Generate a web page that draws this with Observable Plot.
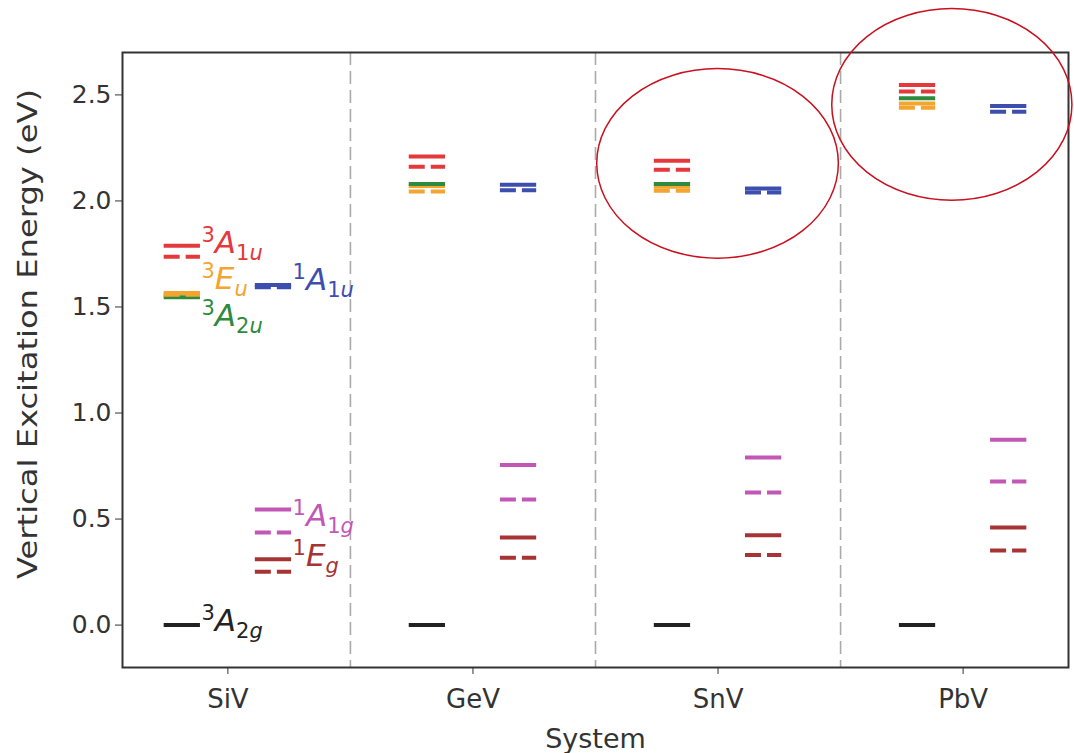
<!DOCTYPE html>
<html>
<head>
<meta charset="utf-8">
<script src="https://cdn.jsdelivr.net/npm/d3@7"></script>
<script src="https://cdn.jsdelivr.net/npm/@observablehq/plot@0.6"></script>
<style>
  html, body { margin: 0; padding: 0; background: #ffffff; }
  #chart svg { display: block; overflow: visible; }
</style>
</head>
<body>
<div id="chart"></div>
<script>
// ---------- data ----------
const systems = ["SiV", "GeV", "SnV", "PbV"];
const yTicks = [0, 0.5, 1.0, 1.5, 2.0, 2.5];

// triplet column (left)
const ground_3A2g      = [0.000, 0.000, 0.000, 0.000];
const red_3A1u_solid   = [1.789, 2.210, 2.189, 2.547];
const red_3A1u_dashed  = [1.737, 2.161, 2.147, 2.516];
const orange_3Eu_solid = [1.566, 2.070, 2.067, 2.459];
const orange_3Eu_dashed= [1.558, 2.045, 2.048, 2.440];
const green_3A2u_solid = [1.546, 2.080, 2.080, 2.484];
// singlet column (right)
const blue_1A1u_solid    = [1.604, 2.076, 2.059, 2.448];
const blue_1A1u_dashed   = [1.593, 2.050, 2.040, 2.421];
const magenta_1A1g_solid = [0.545, 0.755, 0.790, 0.874];
const magenta_1A1g_dashed= [0.436, 0.592, 0.625, 0.677];
const brown_1Eg_solid    = [0.311, 0.413, 0.424, 0.460];
const brown_1Eg_dashed   = [0.251, 0.317, 0.330, 0.352];

// state labels (SiV only): superscript, main letter, subscript digit, subscript letter, label y
const labelSup   = ["3", "3", "3", "3", "1", "1", "1"];
const labelMain  = ["A", "E", "A", "A", "A", "A", "E"];
const labelSubD  = ["1", "",  "2", "2", "1", "1", ""];
const labelSubL  = ["u", "u", "u", "g", "u", "g", "g"];
const labelY     = [1.80, 1.63, 1.455, 0.02, 1.625, 0.515, 0.325];
const labelCol   = ["T", "T", "T", "T", "S", "S", "S"];
const labelColor = ["red", "orange", "green", "black", "blue", "magenta", "brown"];

// annotation ellipses (data units)
const ellipseCx = [2.0, 2.956];
const ellipseCy = [2.175, 2.453];
const ellipseRx = [0.493, 0.49];
const ellipseRy = [0.447, 0.452];

// ---------- styling ----------
const colors = {
  red: "#e5383b", orange: "#f3a530", green: "#2e8a3c", blue: "#3d4fae",
  magenta: "#c257b6", brown: "#a63434", black: "#222222"
};
const colOffset = { T: -0.186, S: 0.186 };
const halfW = 0.074;

// ---------- build level table ----------
const series = [
  { vals: ground_3A2g,        col: "T", color: "black",   dash: false },
  { vals: orange_3Eu_solid,   col: "T", color: "orange",  dash: false },
  { vals: orange_3Eu_dashed,  col: "T", color: "orange",  dash: true  },
  { vals: green_3A2u_solid,   col: "T", color: "green",   dash: false },
  { vals: red_3A1u_solid,     col: "T", color: "red",     dash: false },
  { vals: red_3A1u_dashed,    col: "T", color: "red",     dash: true  },
  { vals: blue_1A1u_solid,    col: "S", color: "blue",    dash: false },
  { vals: blue_1A1u_dashed,   col: "S", color: "blue",    dash: true  },
  { vals: magenta_1A1g_solid, col: "S", color: "magenta", dash: false },
  { vals: magenta_1A1g_dashed,col: "S", color: "magenta", dash: true  },
  { vals: brown_1Eg_solid,    col: "S", color: "brown",   dash: false },
  { vals: brown_1Eg_dashed,   col: "S", color: "brown",   dash: true  }
];
const levels = [];
series.forEach(s => s.vals.forEach((v, i) => levels.push({
  sys: i, y: v, x1: i + colOffset[s.col] - halfW, x2: i + colOffset[s.col] + halfW,
  color: colors[s.color], dash: s.dash
})));
const solid = levels.filter(d => !d.dash);
const dashed = levels.filter(d => d.dash);

const labels = labelMain.map((m, i) => ({
  x: 0 + colOffset[labelCol[i]] + halfW, y: labelY[i],
  sup: labelSup[i], main: m, subD: labelSubD[i], subL: labelSubL[i],
  color: colors[labelColor[i]]
}));

const W = 1074, H = 753;
const font = "DejaVu Sans, Liberation Sans, sans-serif";

const plot = Plot.plot({
  width: W, height: H,
  marginLeft: 122, marginRight: 6, marginTop: 52, marginBottom: 86,
  style: { fontFamily: font, fontSize: "25px", color: "#333", background: "#fff" },
  x: { domain: [-0.43, 3.43] },
  y: { domain: [-0.2, 2.7] },
  marks: [
    Plot.ruleX([0.5, 1.5, 2.5], { stroke: "#aaaaaa", strokeWidth: 1.6, strokeDasharray: "13,6" }),
    Plot.ruleY(solid, { y: "y", x1: "x1", x2: "x2", stroke: "color", strokeWidth: 4 }),
    Plot.ruleY(dashed, { y: "y", x1: "x1", x2: "x2", stroke: "color", strokeWidth: 4, strokeDasharray: "16,6" }),
    Plot.text(labels, { x: "x", y: "y", text: "main", fill: "color", textAnchor: "start", lineAnchor: "middle", dx: 1, className: "statelabel" }),
    Plot.axisY({ ticks: yTicks, tickFormat: d3.format(".1f"), tickSize: 7, tickPadding: 4,
      label: "Vertical Excitation Energy (eV)", labelAnchor: "center", labelArrow: "none", labelOffset: 104, stroke: "#333" }),
    Plot.axisX({ ticks: [0, 1, 2, 3], tickFormat: i => systems[i], tickSize: 7, tickPadding: 15,
      label: "System", labelAnchor: "center", labelArrow: "none", labelOffset: 80, stroke: "#333" }),
    Plot.frame({ stroke: "#333", strokeWidth: 2 })
  ]
});

const svg = d3.select(plot);

// axis title sizes
svg.selectAll('g[aria-label="y-axis label"] text').each(function() {
  const t = d3.select(this);
  const tr = t.attr("transform") || "";
  t.attr("font-size", 26).attr("textLength", 490).attr("lengthAdjust", "spacingAndGlyphs")
   .attr("transform", tr + " translate(26,0)");
});
svg.selectAll('g[aria-label="x-axis label"] text').attr("font-size", 27);
svg.selectAll('g[aria-label="x-axis tick label"] text').attr("font-size", 26);

// rich-text state labels with super/subscripts
svg.selectAll("g.statelabel text").each(function(_, k) {
  const d = labels[k];
  const t = d3.select(this);
  t.text(null).attr("font-size", 31);
  t.append("tspan").attr("font-size", 21).attr("dy", -11).text(d.sup);
  t.append("tspan").attr("font-style", "italic").attr("font-size", 31).attr("dy", 11).text(d.main);
  let first = true;
  if (d.subD) { t.append("tspan").attr("font-size", 21).attr("dy", 7).text(d.subD); first = false; }
  t.append("tspan").attr("font-size", 21).attr("font-style", "italic").attr("dy", first ? 7 : 0).text(d.subL);
});

// annotation ellipses
const sx = plot.scale("x"), sy = plot.scale("y");
ellipseCx.forEach((cx, i) => {
  const px = sx.apply(cx), py = sy.apply(ellipseCy[i]);
  const rx = Math.abs(sx.apply(cx + ellipseRx[i]) - px);
  const ry = Math.abs(sy.apply(ellipseCy[i] + ellipseRy[i]) - py);
  svg.append("ellipse").attr("cx", px).attr("cy", py).attr("rx", rx).attr("ry", ry)
    .attr("fill", "none").attr("stroke", "#c8101e").attr("stroke-width", 1.5);
});
// cropped panel-letter fragment at top-left
svg.append("text").attr("x", -7).attr("y", 47).attr("font-size", 22).attr("fill", "#333").text("e");

document.getElementById("chart").appendChild(plot);
</script>
</body>
</html>
